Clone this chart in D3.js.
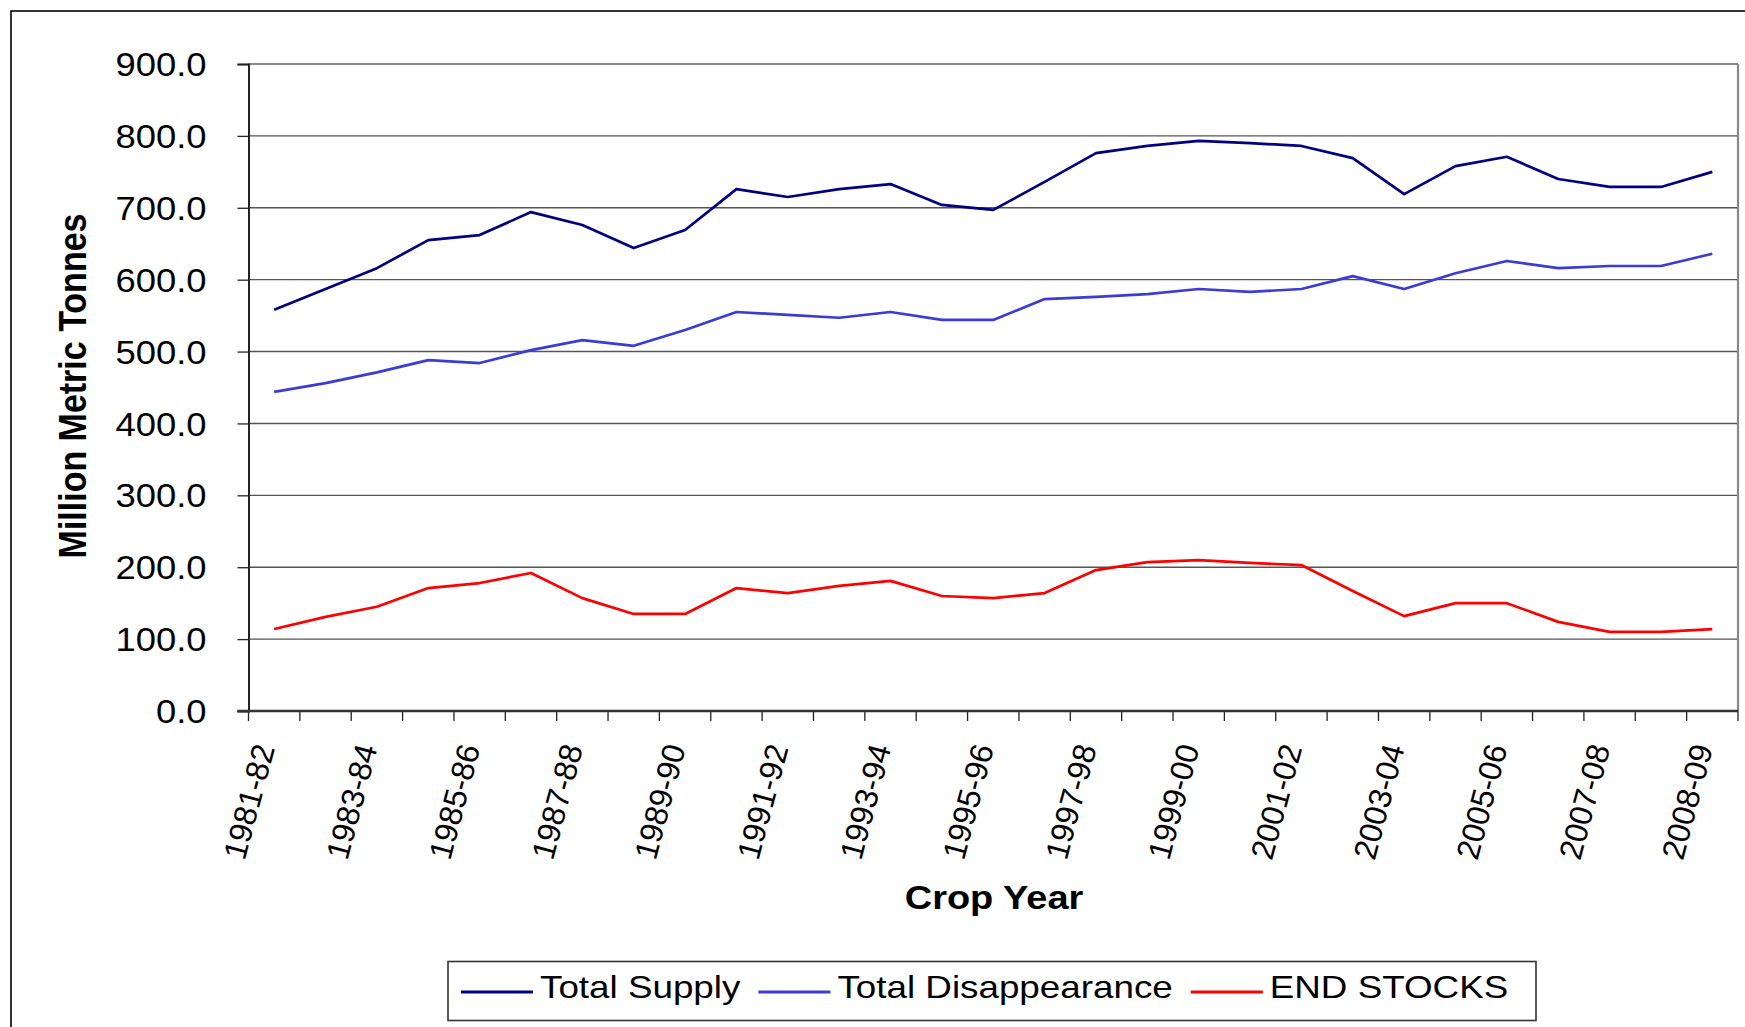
<html>
	<head>
		<meta charset="UTF-8">
		<title>Crop Year Supply and Stocks</title>
		<script src="https://d3js.org/d3.v7.min.js"></script>
	<style>
  body{
      margin: 0;
      background: #fff;
    }
  svg{
      display: block;
      font-family: Arial, "Liberation Sans", sans-serif;
    }
		</style>
	</head>
	<body>
		<script type = "text/javascript">
			// data
			var cropYears = ["1981-82","1982-83","1983-84","1984-85","1985-86","1986-87","1987-88","1988-89",
				"1989-90","1990-91","1991-92","1992-93","1993-94","1994-95","1995-96","1996-97","1997-98",
				"1998-99","1999-00","2000-01","2001-02","2002-03","2003-04","2004-05","2005-06","2006-07",
				"2007-08","2008-09 (est.)","2008-09"];
			var totalSupply = [558,587,616,655,662,694,676,644,669,726,715,726,733,704,697,736,776,786,
				793,790,786,769,719,758,771,740,729,729,750];
			var totalDisappearance = [444,456,471,488,484,502,516,508,530,555,551,547,555,544,544,573,576,
				580,587,583,587,605,587,609,626,616,619,619,636];
			var endStocks = [114,131,145,171,178,192,157,135,135,171,164,174,181,160,157,164,196,207,
				210,206,203,167,132,150,150,124,110,110,114];
			var seriesNames = ["Total Supply","Total Disappearance","END STOCKS"];
			var seriesColors = ["#000080","#3b3bd6","#ff0000"];
			var yTicks = [0,100,200,300,400,500,600,700,800,900];

			var width = 1745;
			var height = 1027;
			// plot area edges (named so they don't clash with window.top)
			var plotLeft = 248.5, plotRight = 1738, plotTop = 64, plotBottom = 711;
			var stretch = 1.12;
			var wideStretch = 1.15;

			var svg = d3.select("body")
						.append("svg")
						.attr("width",width)
						.attr("height",height);

			// outer chart border (runs off right and bottom)
			svg.append("rect")
				.attr("x",11).attr("y",11)
				.attr("width",width).attr("height",height)
				.attr("fill","none")
				.attr("stroke","#000")
				.attr("stroke-width",1.6);

			var x = d3.scaleBand()
				.domain(d3.range(cropYears.length))
				.range([plotLeft,plotRight]);
			var y = d3.scaleLinear()
				.domain([0,900])
				.range([plotBottom,plotTop]);

			// gridlines
			svg.append("g")
				.selectAll("line")
				.data(yTicks.filter(function(d){ return d > 0; }))
				.enter()
				.append("line")
				.attr("x1",plotLeft).attr("x2",plotRight)
				.attr("y1",function(d){ return y(d); })
				.attr("y2",function(d){ return y(d); })
				.attr("stroke",function(d){ return d == 900 ? "#888" : "#555"; })
				.attr("stroke-width",function(d){ return d == 900 ? 2.2 : 1.4; });

			// right border of plot area
			svg.append("line")
				.attr("x1",plotRight).attr("x2",plotRight)
				.attr("y1",plotTop).attr("y2",plotBottom)
				.attr("stroke","#888")
				.attr("stroke-width",2.2);

			// y axis
			var yAxis = svg.append("g")
				.attr("transform","translate(" + plotLeft + ",0)")
				.call(d3.axisLeft(y).tickValues(yTicks).tickSize(11).tickFormat(d3.format(".1f")));
			yAxis.select(".domain").attr("stroke","#222").attr("stroke-width",2);
			yAxis.selectAll(".tick line").attr("stroke","#222").attr("stroke-width",1.3);
			yAxis.selectAll(".tick text")
				.attr("x",null).attr("dy",null)
				.attr("fill","#000")
				.style("font-size","32.5px")
				.attr("transform","translate(-42,11.6) scale(" + stretch + ",1)");

			// x axis: ticks on band edges, labels every other category
			var edges = d3.range(cropYears.length + 1).map(function(i){
				return plotLeft + i * x.step();
			});
			svg.append("g")
				.selectAll("line")
				.data(edges)
				.enter()
				.append("line")
				.attr("x1",function(d){ return d; })
				.attr("x2",function(d){ return d; })
				.attr("y1",plotBottom).attr("y2",plotBottom + 10)
				.attr("stroke","#222")
				.attr("stroke-width",1.3);
			svg.append("line")
				.attr("x1",plotLeft - 11).attr("x2",plotRight)
				.attr("y1",plotBottom).attr("y2",plotBottom)
				.attr("stroke","#333")
				.attr("stroke-width",2.4);

			svg.append("g")
				.selectAll("text")
				.data(cropYears.map(function(d,i){ return {label:d, i:i}; })
					.filter(function(d){ return d.i % 2 == 0; }))
				.enter()
				.append("text")
				.text(function(d){ return d.label; })
				.attr("text-anchor","end")
				.attr("dy","0.35em")
				.attr("transform",function(d){
					var cx = x(d.i) + x.bandwidth()/2 - 10;
					return "translate(" + cx + ",745) rotate(-75)";
				})
				.style("font-size","32px");

			// lines
			var series = [totalSupply,totalDisappearance,endStocks];
			var line = d3.line()
				.x(function(d,i){ return x(i) + x.bandwidth()/2; })
				.y(function(d){ return y(d); });
			svg.append("g")
				.selectAll("path")
				.data(series)
				.enter()
				.append("path")
				.attr("d",line)
				.attr("fill","none")
				.attr("stroke",function(d,i){ return seriesColors[i]; })
				.attr("stroke-width",2.7)
				.attr("stroke-linejoin","round");

			// axis titles
			svg.append("text")
				.text("Million Metric Tonnes")
				.attr("text-anchor","middle")
				.attr("transform","translate(86,386) scale(" + stretch + ",1) rotate(-90)")
				.style("font-size","34px")
				.style("font-weight","bold");
			svg.append("text")
				.text("Crop Year")
				.attr("text-anchor","middle")
				.attr("transform","translate(994,909) scale(" + wideStretch + ",1)")
				.style("font-size","33px")
				.style("font-weight","bold");

			// legend
			svg.append("rect")
				.attr("x",448).attr("y",961.5)
				.attr("width",1088).attr("height",59)
				.attr("fill","#fff")
				.attr("stroke","#333")
				.attr("stroke-width",1.6);
			var lx = 461;
			seriesNames.forEach(function(name,i){
				svg.append("line")
					.attr("x1",lx).attr("x2",lx + 72)
					.attr("y1",992).attr("y2",992)
					.attr("stroke",seriesColors[i])
					.attr("stroke-width",3);
				var t = svg.append("text")
					.text(name)
					.attr("transform","translate(" + (lx + 79) + ",998) scale(" + wideStretch + ",1)")
					.style("font-size","32px");
				lx += 79 + t.node().getComputedTextLength() * wideStretch + 18;
			});
		</script>
	</body>
</html>
